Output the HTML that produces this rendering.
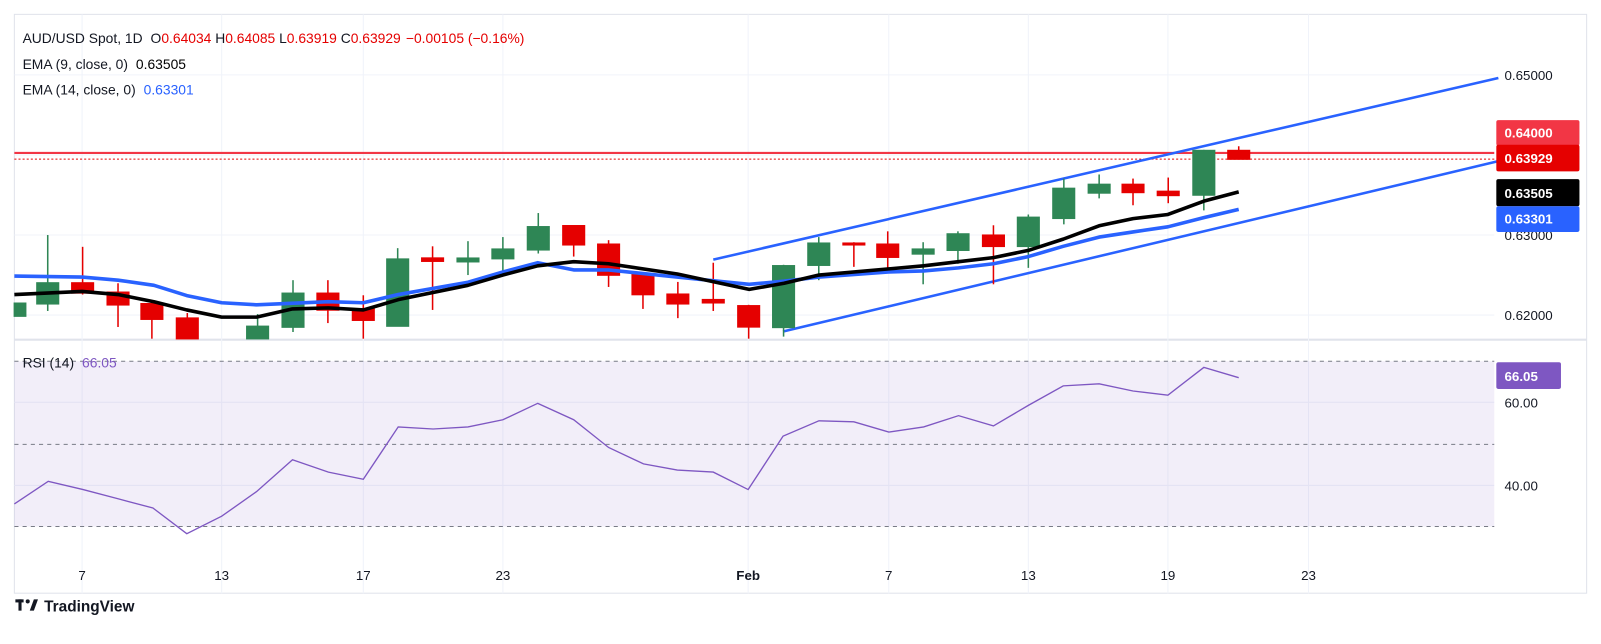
<!DOCTYPE html>
<html><head><meta charset="utf-8"><style>
html,body{margin:0;padding:0;background:#fff;}
svg{display:block;font-family:"Liberation Sans",Arial,sans-serif;}
</style></head><body>
<svg width="1601" height="644" viewBox="0 0 1560 627.5" preserveAspectRatio="none" xmlns="http://www.w3.org/2000/svg">
<rect width="1560" height="627.5" fill="#fff"/>
<!-- frame -->
<rect x="14" y="14" width="1532" height="564" fill="none" stroke="#e0e3eb" stroke-width="1"/>
<line x1="14" y1="331" x2="1546" y2="331" stroke="#e0e3eb" stroke-width="2"/>
<!-- grid -->
<g stroke="#f0f3fa" stroke-width="1">
<line x1="14" y1="73" x2="1456" y2="73"/><line x1="14" y1="151" x2="1456" y2="151"/>
<line x1="14" y1="229" x2="1456" y2="229"/><line x1="14" y1="307" x2="1456" y2="307"/>
<line x1="14" y1="392" x2="1456" y2="392"/><line x1="14" y1="473" x2="1456" y2="473"/>
<line x1="80" y1="14" x2="80" y2="578"/><line x1="216" y1="14" x2="216" y2="578"/>
<line x1="354" y1="14" x2="354" y2="578"/><line x1="490" y1="14" x2="490" y2="578"/>
<line x1="729" y1="14" x2="729" y2="578"/><line x1="866" y1="14" x2="866" y2="578"/>
<line x1="1002" y1="14" x2="1002" y2="578"/><line x1="1138" y1="14" x2="1138" y2="578"/>
<line x1="1275" y1="14" x2="1275" y2="578"/>
</g>
<!-- RSI band -->
<rect x="14" y="352" width="1442" height="161" fill="#7e57c2" fill-opacity="0.1"/>
<g stroke="#787b86" stroke-dasharray="4,4" stroke-width="1">
<line x1="14" y1="352" x2="1456" y2="352"/><line x1="14" y1="433" x2="1456" y2="433"/><line x1="14" y1="513" x2="1456" y2="513"/>
</g>
<!-- red level -->
<line x1="14" y1="149" x2="1456" y2="149" stroke="#f23645" stroke-width="2"/>
<line x1="14" y1="155" x2="1456" y2="155" stroke="#e50000" stroke-width="1" stroke-dasharray="2,2"/>
<!-- channel -->
<line x1="695" y1="253" x2="1460" y2="76" stroke="#2962ff" stroke-width="2.5"/>
<line x1="763" y1="323" x2="1460" y2="157" stroke="#2962ff" stroke-width="2.5"/>
<!-- candles -->
<g stroke-width="1.5">
<g stroke="#2e8655" fill="#2e8655">
<rect x="14" y="295.5" width="11" height="12.5"/>
<line x1="46.5" y1="229" x2="46.5" y2="303"/><rect x="36" y="275.7" width="21" height="20.3"/>
<line x1="251" y1="306" x2="251" y2="330"/><rect x="240.5" y="318" width="21" height="12"/>
<line x1="285.5" y1="273" x2="285.5" y2="323.5"/><rect x="275" y="285.8" width="21" height="32.9"/>
<line x1="387.5" y1="241.8" x2="387.5" y2="317.7"/><rect x="377" y="252.5" width="21" height="65.2"/>
<line x1="456" y1="235" x2="456" y2="268"/><rect x="445.5" y="251.6" width="21" height="3.4"/>
<line x1="490" y1="231" x2="490" y2="265.6"/><rect x="479.5" y="242.8" width="21" height="9.2"/>
<line x1="524.5" y1="207.6" x2="524.5" y2="247"/><rect x="514" y="221" width="21" height="22.4"/>
<line x1="763.5" y1="258" x2="763.5" y2="328"/><rect x="753" y="259" width="21" height="60"/>
<line x1="797.8" y1="231" x2="797.8" y2="273"/><rect x="787.3" y="237" width="21" height="21.4"/>
<line x1="899.5" y1="236" x2="899.5" y2="277"/><rect x="889" y="242.8" width="21" height="4.6"/>
<line x1="933.4" y1="225.4" x2="933.4" y2="257"/><rect x="923" y="228" width="21" height="15.8"/>
<line x1="1002" y1="209" x2="1002" y2="261"/><rect x="991.5" y="211.8" width="21" height="28.2"/>
<line x1="1036.6" y1="174" x2="1036.6" y2="218.6"/><rect x="1026" y="183.6" width="21" height="29.1"/>
<line x1="1071" y1="170" x2="1071" y2="193.3"/><rect x="1060.5" y="179.7" width="21" height="8.3"/>
<line x1="1173" y1="146" x2="1173" y2="205"/><rect x="1162.5" y="146.7" width="21" height="43.3"/>
</g>
<g stroke="#e50000" fill="#e50000">
<line x1="80.5" y1="240.5" x2="80.5" y2="287"/><rect x="70" y="275.7" width="21" height="9.7"/>
<line x1="115" y1="276" x2="115" y2="318.6"/><rect x="104.5" y="284.8" width="21" height="12.2"/>
<line x1="148" y1="295" x2="148" y2="330"/><rect x="137.5" y="296" width="21" height="15"/>
<line x1="182.5" y1="305" x2="182.5" y2="330"/><rect x="172" y="310" width="21" height="20"/>
<line x1="319.5" y1="273" x2="319.5" y2="314.8"/><rect x="309" y="285.8" width="21" height="16.2"/>
<line x1="354" y1="287.7" x2="354" y2="330"/><rect x="343.5" y="301" width="21" height="11"/>
<line x1="421.5" y1="240" x2="421.5" y2="302"/><rect x="411" y="251.5" width="21" height="3"/>
<line x1="559" y1="220" x2="559" y2="250"/><rect x="548.5" y="220" width="21" height="18.5"/>
<line x1="593" y1="234" x2="593" y2="279.6"/><rect x="582.5" y="238" width="21" height="30"/>
<line x1="626.5" y1="265.6" x2="626.5" y2="301"/><rect x="616" y="267" width="21" height="20"/>
<line x1="660.5" y1="274.7" x2="660.5" y2="310"/><rect x="650" y="286.7" width="21" height="9.3"/>
<line x1="695" y1="256" x2="695" y2="303"/><rect x="684.5" y="292" width="21" height="3"/>
<line x1="729.5" y1="297" x2="729.5" y2="330"/><rect x="719" y="298" width="21" height="20.5"/>
<line x1="832" y1="236" x2="832" y2="260"/><rect x="821.5" y="237" width="21" height="1.5"/>
<line x1="865" y1="225.4" x2="865" y2="262"/><rect x="854.5" y="238" width="21" height="12.6"/>
<line x1="968" y1="219.5" x2="968" y2="277"/><rect x="957.5" y="229.2" width="21" height="10.8"/>
<line x1="1104" y1="174" x2="1104" y2="200"/><rect x="1093.5" y="179.7" width="21" height="7.8"/>
<line x1="1138.3" y1="173" x2="1138.3" y2="198"/><rect x="1127.8" y="186.5" width="21" height="3.9"/>
<line x1="1207" y1="142.5" x2="1207" y2="155"/><rect x="1196.5" y="146.7" width="21" height="8.3"/>
</g>
</g>
<!-- EMAs -->
<polyline fill="none" stroke="#2962ff" stroke-width="3.5" stroke-linejoin="round" points="14,269 80,270 115,273 150,278 182,288 216,295 250,297 320,294 354,295 388,287 456,275 490,265 524,256 559,263 593,263 660,270 730,277 764,274 798,270 866,265 900,264 934,261 968,257 1002,250 1036,240 1071,231 1104,226 1138,221 1173,212 1207,204"/>
<polyline fill="none" stroke="#000" stroke-width="3.5" stroke-linejoin="round" points="14,287 80,284 115,287 150,294 182,302 216,309 250,309 285,301 320,300 354,302 388,292 456,278 490,268 524,259 559,255 593,257 660,267 730,282 764,276 798,268 866,262 900,259 934,255 968,251 1002,244 1036,233 1071,220 1104,213 1138,209 1173,196 1207,187"/>
<!-- RSI -->
<polyline fill="none" stroke="#7e57c2" stroke-width="1.3" points="14,491 47,469 81,477 115,486 149,495 182,520 216,503 250,479 285,448 320,460 354,467 388,416 422,418 456,416 490,409 524,393 559,409 593,436 627,452 660,458 695,460 729,477 763,425 798,410 832,411 866,421 900,416 934,405 968,415 1002,395 1036,376 1071,374 1104,381 1138,385 1173,358 1207,368"/>
<!-- price axis -->
<g font-size="13" fill="#131722">
<text x="1466" y="78">0.65000</text>
<text x="1466" y="234">0.63000</text>
<text x="1466" y="312">0.62000</text>
<text x="1466" y="397">60.00</text>
<text x="1466" y="478">40.00</text>
</g>
<rect x="1458" y="117" width="81" height="25" rx="2" fill="#f23645"/>
<rect x="1458" y="141" width="81" height="26" rx="2" fill="#e50000"/>
<rect x="1458" y="174.5" width="81" height="26.5" rx="2" fill="#000"/>
<rect x="1458" y="201" width="81" height="25" rx="2" fill="#2962ff"/>
<rect x="1458" y="353" width="63" height="26" rx="2" fill="#7e57c2"/>
<g font-size="13" fill="#fff" font-weight="bold">
<text x="1466" y="134">0.64000</text>
<text x="1466" y="159">0.63929</text>
<text x="1466" y="193">0.63505</text>
<text x="1466" y="218">0.63301</text>
<text x="1466" y="371">66.05</text>
</g>
<!-- time axis -->
<g font-size="13" fill="#131722" text-anchor="middle">
<text x="80" y="565">7</text><text x="216" y="565">13</text><text x="354" y="565">17</text>
<text x="490" y="565">23</text><text x="729" y="565" font-weight="bold">Feb</text>
<text x="866" y="565">7</text><text x="1002" y="565">13</text><text x="1138" y="565">19</text><text x="1275" y="565">23</text>
</g>
<!-- legend -->
<g font-size="13.5">
<text x="22" y="42" fill="#131722">AUD/USD Spot, 1D <tspan dx="4">O</tspan><tspan fill="#e50000">0.64034</tspan> H<tspan fill="#e50000">0.64085</tspan> L<tspan fill="#e50000">0.63919</tspan> C<tspan fill="#e50000">0.63929</tspan><tspan fill="#e50000" dx="5">−0.00105 (−0.16%)</tspan></text>
<text x="22" y="67" fill="#131722">EMA (9, close, 0) <tspan dx="4" fill="#000">0.63505</tspan></text>
<text x="22" y="92" fill="#131722">EMA (14, close, 0) <tspan dx="4" fill="#2962ff">0.63301</tspan></text>
<text x="22" y="358" fill="#131722">RSI (14) <tspan dx="4" fill="#7e57c2">66.05</tspan></text>
</g>
<!-- logo -->
<g fill="#131722">
<rect x="15" y="584" width="8" height="3"/><rect x="18" y="584" width="3" height="11"/>
<circle cx="27" cy="586" r="2"/><path d="M29 595 L33 584 L37 584 L33 595 Z"/>
<text x="43" y="596" font-size="15" font-weight="bold">TradingView</text>
</g>
</svg>
</body></html>
